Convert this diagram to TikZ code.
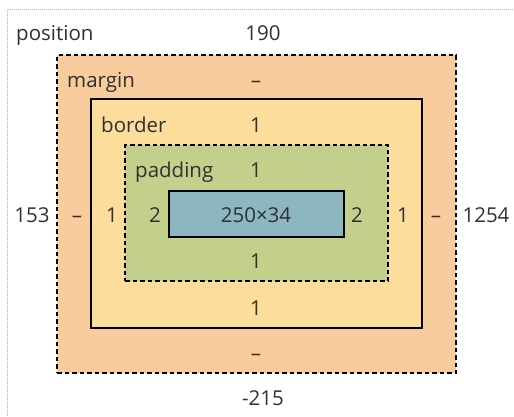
\documentclass[tikz,border=0pt]{standalone}
\usepackage{fontspec}
\setmainfont{Open Sans}
\usepackage{xcolor}
\usetikzlibrary{positioning}
\definecolor{marginfill}{HTML}{F9CC9D}
\definecolor{borderfill}{HTML}{FDDD9B}
\definecolor{paddingfill}{HTML}{C3D08B}
\definecolor{contentfill}{HTML}{8CB6C0}
\definecolor{boxtext}{HTML}{303030}
\tikzset{
    layer/.style={
           rectangle,
           draw=black, line width=1.4pt,
           inner sep=0pt,
           },
    dashlayer/.style={
           layer,
           dash pattern=on 4.5pt off 3pt,
           },
    lbl/.style={
           inner sep=0pt,
           anchor=base,
           text=boxtext,
           font=\fontsize{20.5}{24}\selectfont,
           },
}
\begin{document}
\begin{tikzpicture}[x=1pt,y=-1pt]
 \useasboundingbox (0,0) rectangle (514,416);

 % position frame
 \draw[gray!60, line width=1pt, dash pattern=on 1pt off 1pt] (7,416) -- (7,9) -- (514,9);

 % nested boxes
 \node[dashlayer, fill=marginfill, minimum width=399pt, minimum height=318pt]
   (margin) at (256.5,214) {};
 \node[layer, fill=borderfill, minimum width=331pt, minimum height=229pt]
   (border) at (256.5,213.5) {};
 \node[dashlayer, fill=paddingfill, minimum width=263pt, minimum height=136pt, line width=1.2pt]
   (padding) at (256.5,213) {};
 \node[layer, fill=contentfill, minimum width=175pt, minimum height=46pt, line width=1.2pt]
   (content) at (256.5,214) {};

 % labels
 \node[lbl, anchor=base west] (posname) at (16,40) {position};
 \node[lbl] (postop) at (263,40) {190};
 \node[lbl, anchor=base west] (marname) at (67,87) {margin};
 \node[lbl] (martop) at (256,87) {–};
 \node[lbl, anchor=base west] (borname) at (101,132) {border};
 \node[lbl] (bortop) at (256,132) {1};
 \node[lbl, anchor=base west] (padname) at (135,177) {padding};
 \node[lbl] (padtop) at (256,177) {1};

 \node[lbl] (posleft) at (32,222) {153};
 \node[lbl] (marleft) at (77,222) {–};
 \node[lbl] (borleft) at (112,222) {1};
 \node[lbl] (padleft) at (155,222) {2};
 \node[lbl] (size) at (256,222) {250×34};
 \node[lbl] (padright) at (357,222) {2};
 \node[lbl] (borright) at (403,222) {1};
 \node[lbl] (marright) at (436,222) {–};
 \node[lbl] (posright) at (486,222) {1254};

 \node[lbl] (padbot) at (256,268) {1};
 \node[lbl] (borbot) at (256,315) {1};
 \node[lbl] (marbot) at (256,360) {–};
 \node[lbl] (posbot) at (263,405) {-215};
\end{tikzpicture}
\end{document}
